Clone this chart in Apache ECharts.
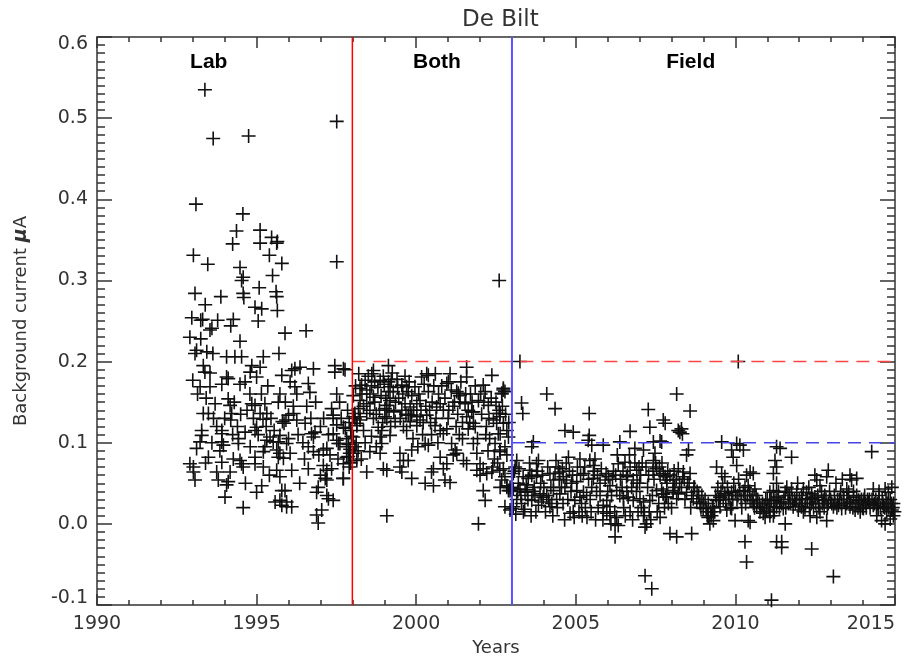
<!DOCTYPE html>
<html>
<head>
<meta charset="utf-8">
<script src="https://cdn.jsdelivr.net/npm/echarts@6/dist/echarts.min.js"></script>
<style>html,body{margin:0;padding:0;background:#fff}#c{width:920px;height:662px}</style>
</head>
<body>
<div id="c"></div>
<script>
// ---- data (years, background current in microampere) ----
const labData = [
[1993.38,0.535],[1993.64,0.475],[1994.75,0.478],[1997.51,0.496],[1993.10,0.394],[1994.57,0.382],[1994.37,0.361],[1995.11,0.362],[1995.47,0.353],[1995.65,0.348],[1994.25,0.345],[1995.11,0.346],
[1995.63,0.346],[1993.02,0.331],[1995.40,0.331],[1993.47,0.32],[1995.79,0.321],[1997.51,0.323],[1994.48,0.316],[1994.58,0.304],[1994.53,0.30],[1995.50,0.306],[1993.07,0.284],[1993.88,0.28],[1994.58,0.284],[1994.60,0.279],[1995.08,0.291],[1995.61,0.286],[1995.63,0.28],[1993.39,0.27],[1994.95,0.267],[1995.16,0.265],[1995.65,0.263],[1992.97,0.254],[1993.31,0.252],[1993.25,0.251],[1993.78,0.251],[1994.27,0.252],[1994.19,0.244],[1995.05,0.25],[1993.60,0.241],[1993.54,0.239],[1992.91,0.23],[1993.25,0.228],[1994.48,0.225],[1995.89,0.235],[1996.55,0.238],
[1993.12,0.214],[1993.07,0.21],[1993.44,0.212],[1993.63,0.21],[1994.06,0.206],[1994.32,0.206],[1994.53,0.206],[1995.21,0.206],[1995.70,0.21],[1993.33,0.195],[1993.38,0.187],[1993.54,0.186],[1994.85,0.195],[1995.11,0.193],[1994.80,0.187],[1995.00,0.181],[1994.06,0.181],[1996.20,0.191],[1996.10,0.189],[1996.36,0.193],[1995.79,0.183],[1996.78,0.191],[1997.45,0.195],[1997.45,0.187],[1997.77,0.19],
[1993.00,0.177],[1993.23,0.169],[1993.54,0.169],[1993.91,0.172],[1994.11,0.179],[1994.48,0.172],[1994.64,0.175],[1996.05,0.175],[1996.20,0.169],[1996.26,0.16],[1996.62,0.173],[1996.67,0.162],[1995.73,0.16],[1997.51,0.16],[1994.79,0.16],[1993.70,0.148],[1994.11,0.154],[1994.17,0.146],[1994.85,0.148],[1994.95,0.146],[1995.26,0.148],[1995.68,0.15],[1996.57,0.145],[1997.35,0.142],[1993.33,0.136],[1993.49,0.136],[1994.22,0.136],[1995.11,0.136],[1995.32,0.136],[1996.00,0.134],[1996.16,0.136],[1997.40,0.134],
[1994.19,0.128],[1995.20,0.129],[1995.92,0.128],[1995.81,0.126],[1995.86,0.124],[1996.26,0.128],[1996.52,0.124],[1997.40,0.130],[1997.51,0.122],[1997.72,0.119],
[1993.28,0.115],[1993.28,0.109],[1993.23,0.101],[1993.91,0.115],[1993.91,0.111],[1994.43,0.105],[1994.43,0.099],[1994.64,0.113],[1993.91,0.101],[1993.96,0.097],[1995.00,0.119],[1994.95,0.115],[1995.42,0.107],[1995.32,0.103],[1995.52,0.101],[1995.73,0.109],[1995.68,0.101],[1995.94,0.099],[1996.72,0.111],[1996.83,0.113],[1996.78,0.107],[1997.20,0.093],[1997.09,0.091],[1997.40,0.111],[1997.51,0.103],[1997.56,0.099],[1997.82,0.095],[1997.87,0.083],[1997.92,0.087],[1996.62,0.095],[1996.78,0.089],[1995.26,0.095],[1995.21,0.089],[1995.63,0.091],[1995.73,0.087],[1995.68,0.082],[1996.05,0.087],[1995.84,0.081],[1993.12,0.093],[1993.49,0.082],[1992.91,0.074],[1993.02,0.07],[1993.02,0.064],[1993.07,0.054],[1993.91,0.076],[1993.75,0.064],[1994.17,0.064],[1994.27,0.08],[1994.48,0.078],[1994.58,0.07],[1994.53,0.074],[1994.95,0.082],[1994.95,0.074],[1995.21,0.07],[1995.63,0.066],[1995.73,0.058],[1996.10,0.066],[1996.62,0.068],[1997.09,0.072],[1997.20,0.066],[1997.35,0.068],[1997.00,0.06],[1997.15,0.056],[1997.20,0.054],[1997.71,0.056],[1993.80,0.054],[1994.11,0.052],[1994.06,0.048],[1994.01,0.033],[1995.16,0.047],[1995.00,0.039],[1995.79,0.041],[1995.89,0.041],[1995.73,0.029],[1995.58,0.027],[1995.94,0.027],[1995.79,0.023],[1996.10,0.021],[1995.94,0.021],[1994.58,0.02],[1996.93,0.045],[1996.88,0.039],[1997.20,0.035],[1997.25,0.031],[1997.40,0.029],[1997.04,0.017],[1996.88,0.011],[1996.93,0.001],
[1997.85,0.14],[1997.90,0.125],[1997.95,0.115],[1997.82,0.105],[1997.88,0.098],[1997.93,0.092],[1997.97,0.108],[1997.78,0.118],[1997.95,0.075],[1997.90,0.07],
[1997.72,0.191],[1997.61,0.099],[1997.82,0.082],[1997.72,0.074],[1997.93,0.076],[1997.72,0.056],
[1993.15,0.16],[1993.42,0.155],[1993.65,0.13],[1993.75,0.12],[1993.85,0.09],[1994.00,0.13],[1994.30,0.15],[1994.40,0.12],[1994.70,0.14],[1994.90,0.13],[1995.05,0.11],[1995.15,0.16],[1995.35,0.17],[1995.45,0.13],[1995.55,0.115],[1995.90,0.15],[1996.15,0.145],[1996.30,0.11],[1996.45,0.10],[1996.50,0.08],[1996.70,0.13],[1996.85,0.15],[1997.00,0.12],[1997.10,0.13],[1997.25,0.11],[1997.30,0.085],[1997.55,0.08],[1997.65,0.13],[1997.60,0.15],[1996.95,0.085],[1994.80,0.095],[1994.25,0.11],[1993.60,0.10],[1993.40,0.075],[1994.65,0.05],[1995.40,0.06],[1996.35,0.05],[1996.00,0.105],[1995.30,0.12],[1994.50,0.135]
];

const bothData = [
[2002.60,0.30],[1999.13,0.195],[1998.66,0.189],[1998.61,0.185],[1998.40,0.177],[1998.29,0.171],[1998.24,0.167],[1998.97,0.182],[1998.87,0.177],[1999.13,0.175],[1999.18,0.169],[1999.13,0.163],[1999.28,0.163],[2000.33,0.185],[2000.38,0.183],[2000.17,0.181],[1999.96,0.169],[1999.70,0.169],[1999.55,0.171],[1999.86,0.158],[1999.75,0.163],[2001.06,0.185],[2001.01,0.175],[2000.96,0.173],[2001.58,0.193],[2001.58,0.181],[2002.37,0.183],[2002.10,0.171],[2002.16,0.163],[2002.73,0.167],[2002.68,0.161],[2002.78,0.163],[2001.27,0.163],[2001.32,0.161],[2001.37,0.158],[2000.38,0.163],[2000.12,0.152],[2000.02,0.148],[2000.75,0.148],[2000.64,0.144],[1999.18,0.152],[1999.08,0.146],[1999.02,0.142],[1998.24,0.152],[1998.45,0.148],[1998.55,0.14],[1998.19,0.142],[1998.66,0.156],[1999.65,0.148],[1999.81,0.144],[2001.37,0.15],[2001.53,0.148],[2001.63,0.14],[2001.79,0.138],[2002.26,0.146],[2002.60,0.14],[2002.52,0.136],[2002.62,0.132],[1998.03,0.158],[1998.08,0.136],[1998.24,0.132],[1999.02,0.132],[1999.86,0.134],[2000.02,0.132],
[1998.08,0.13],[1998.14,0.121],[1998.03,0.132],[1998.24,0.128],[1998.14,0.124],[1998.45,0.136],[1998.66,0.13],[1998.81,0.119],[1998.92,0.115],[1998.87,0.107],[1998.92,0.099],[1999.18,0.109],[1999.08,0.13],[1999.34,0.126],[1999.75,0.134],[1999.81,0.126],[2000.12,0.128],[2000.02,0.121],[1999.70,0.115],[2000.33,0.134],[2000.59,0.121],[2000.75,0.115],[2000.96,0.117],[2000.85,0.111],
[1998.03,0.107],[1998.08,0.095],[1998.03,0.087],[1998.14,0.078],[1998.45,0.064],[1998.55,0.089],[1998.87,0.087],[1998.97,0.068],[1999.08,0.066],[1999.49,0.087],[1999.60,0.078],[1999.49,0.07],[1999.55,0.064],[1999.86,0.091],[1999.75,0.078],[1999.86,0.056],[1999.08,0.01],[2000.38,0.097],[2000.28,0.099],[2000.48,0.064],[2000.54,0.068],[2000.28,0.05],[2000.54,0.047],[2000.90,0.054],[2001.06,0.051],[2000.75,0.082],[2000.96,0.074],[2000.85,0.068],[2001.11,0.099],[2001.22,0.091],[2001.27,0.087],[2001.16,0.085],[2001.48,0.078],[2001.58,0.074],[2001.58,0.132],[2001.74,0.138],[2001.79,0.124],[2001.63,0.117],[2001.79,0.099],[2001.90,0.087],[2002.00,0.074],[2002.10,0.068],[2001.90,0.066],[2002.00,0.06],[2002.21,0.062],[2002.37,0.064],[2002.62,0.066],[2002.10,0.041],[2002.16,0.029],[2001.95,0.0],[2002.42,0.128],[2002.52,0.124],[2002.57,0.111],[2002.47,0.099],[2002.62,0.091],[2002.84,0.085],[2002.84,0.047],[2002.89,0.041],[2002.94,0.045],[2002.78,0.021],[2002.99,0.019],[2002.94,0.017],
[2002.68,0.16],[2002.73,0.165],[2002.63,0.136],[2002.73,0.124],[2002.84,0.115],[2002.63,0.111],[2002.89,0.107],[2002.78,0.095],[2002.63,0.089],[2002.73,0.068],[2002.78,0.058],[2002.68,0.054],[2002.63,0.045],[2002.84,0.045],[2002.94,0.041],
[1998.50,0.182],[1998.70,0.175],[1998.80,0.168],[1998.90,0.158],[1999.00,0.172],[1999.25,0.186],[1999.40,0.178],[1999.45,0.155],[1999.55,0.14],[1999.30,0.138],[1999.20,0.12],[1998.35,0.115],[1998.60,0.108],[1998.75,0.095],[1998.40,0.1],[1999.60,0.12],[1999.90,0.105],[2000.05,0.095],[2000.20,0.11],[2000.45,0.125],[2000.50,0.15],[2000.55,0.17],[2000.70,0.16],[2000.85,0.14],[2001.00,0.13],[2001.15,0.145],[2001.25,0.12],[2001.45,0.105],[2001.70,0.16],[2001.85,0.17],[2001.95,0.152],[2002.05,0.135],[2002.20,0.12],[2002.30,0.105],[2002.45,0.08],[2002.25,0.09],[2001.40,0.175],[2000.25,0.172],[1999.65,0.182],[2000.60,0.185],
[1998.10,0.17],[1998.20,0.185],[1998.30,0.16],[1998.35,0.145],[1998.45,0.165],[1998.55,0.16],[1998.60,0.17],[1998.70,0.15],[1998.75,0.135],[1998.85,0.14],[1998.95,0.125],[1999.05,0.155],[1999.15,0.14],[1999.22,0.178],[1999.35,0.15],[1999.42,0.168],[1999.50,0.13],[1999.58,0.16],[1999.68,0.135],[1999.78,0.175],[1999.92,0.14],[2000.08,0.16],[2000.15,0.14],[2000.22,0.125],[2000.30,0.145],[2000.42,0.14],[2000.48,0.11],[2000.62,0.13],[2000.68,0.10],[2000.80,0.17],[2000.90,0.155],[2001.02,0.14],[2001.10,0.165],[2001.20,0.15],[2001.30,0.135],[2001.35,0.11],[2001.45,0.125],[2001.55,0.16],[2001.68,0.125],[2001.75,0.15],[2001.85,0.12],[2001.92,0.105],[2002.02,0.16],[2002.12,0.15],[2002.18,0.11],[2002.28,0.13],[2002.35,0.155],[2002.40,0.07],[2002.50,0.15],[2002.55,0.075],[2002.70,0.145],[2002.80,0.135],[2002.90,0.125],[1998.12,0.10],[1998.18,0.09],[1998.28,0.08]
];

const fieldData = [
[2003.25,0.2],[2004.09,0.16],[2003.30,0.149],[2003.34,0.136],[2004.35,0.142],[2005.42,0.136],[2004.66,0.115],[2004.92,0.113],[2005.42,0.109],[2005.39,0.103],[2005.50,0.097],[2007.27,0.141],[2007.74,0.128],[2007.80,0.124],[2007.32,0.119],[2006.70,0.114],[2008.16,0.16],[2008.21,0.115],[2003.67,0.101],[2003.62,0.095],[2006.38,0.101],[2006.85,0.093],[2007.12,0.091],[2007.43,0.101],[2007.64,0.102],[2005.86,0.097],[2007.48,0.087],[2007.43,0.078],[2003.15,0.078],[2003.10,0.07],[2003.04,0.062],[2003.83,0.078],[2003.77,0.074],[2004.77,0.082],[2005.13,0.08],[2005.44,0.078],[2005.60,0.08],[2005.55,0.072],[2004.45,0.07],[2004.50,0.064],[2004.35,0.062],[2004.61,0.058],[2003.56,0.066],[2003.62,0.06],[2003.51,0.056],[2003.77,0.058],[2004.71,0.054],[2004.87,0.05],[2005.03,0.052],[2004.66,0.045],[2006.33,0.074],[2006.54,0.076],[2006.70,0.07],[2006.91,0.066],[2006.59,0.058],[2006.80,0.054],[2007.53,0.068],[2007.74,0.062],[2007.85,0.054],[2008.05,0.054],[2005.24,0.062],[2005.55,0.056],[2005.76,0.05],[2005.92,0.054],[2006.07,0.047],[2003.04,0.043],[2003.25,0.043],[2003.41,0.039],[2003.88,0.037],[2003.98,0.033],[2004.09,0.035],[2003.93,0.027],[2003.83,0.023],[2004.19,0.021],[2005.03,0.041],[2005.24,0.039],[2005.13,0.033],[2005.34,0.035],[2004.97,0.029],[2005.18,0.025],[2004.92,0.015],[2004.82,0.013],[2004.30,0.041],[2004.50,0.037],[2005.76,0.035],[2005.97,0.029],[2005.86,0.023],[2006.07,0.021],[2006.12,0.035],[2006.28,0.041],[2006.38,0.035],[2006.49,0.031],[2006.64,0.033],[2006.80,0.029],[2007.01,0.031],[2007.12,0.027],[2007.32,0.029],[2005.86,0.015],[2005.97,0.013],[2006.07,0.01],[2006.28,0.008],[2006.23,0.0],[2006.33,-0.002],[2006.23,-0.016],[2007.12,0.01],[2007.22,0.0],[2007.17,-0.004],[2007.64,0.008],[2007.17,-0.064],[2007.38,-0.08],[2007.95,-0.012],[2008.16,-0.016],[2007.53,0.041],[2007.74,0.037],[2007.85,0.033],[2008.05,0.041],[2008.16,0.031],[2003.04,0.021],[2003.36,0.015],[2003.72,0.035],[2003.62,0.029],[2004.19,0.062],[2004.30,0.054],
[2008.58,0.139],[2008.31,0.117],[2008.34,0.111],[2008.26,0.113],[2007.69,0.101],[2009.57,0.101],[2010.09,0.2],[2010.14,0.097],[2010.25,0.091],[2009.93,0.082],[2010.04,0.072],[2008.53,0.091],[2008.47,0.085],[2009.41,0.07],[2009.57,0.062],[2009.67,0.058],[2008.21,0.068],[2008.37,0.064],[2008.58,0.062],[2010.46,0.064],[2010.56,0.062],[2011.19,0.062],[2011.29,0.07],[2011.24,0.078],[2011.29,0.095],[2007.64,0.06],[2007.80,0.058],[2007.85,0.05],[2007.69,0.043],[2007.74,0.037],[2008.10,0.045],[2008.05,0.039],[2008.21,0.037],[2008.31,0.045],[2008.47,0.039],[2008.63,0.035],[2008.68,0.031],[2008.79,0.027],[2008.89,0.025],[2008.99,0.019],[2009.10,0.015],[2009.15,0.008],[2009.20,0.0],[2009.25,0.01],[2009.31,0.004],[2009.41,0.029],[2009.52,0.033],[2009.67,0.037],[2009.78,0.035],[2009.88,0.039],[2009.52,0.021],[2009.73,0.017],[2009.88,0.019],[2009.99,0.004],[2010.14,0.041],[2010.30,0.045],[2010.40,0.047],[2010.61,0.043],[2010.30,0.035],[2010.46,0.029],[2010.56,0.025],[2010.67,0.021],[2010.77,0.015],[2010.87,0.013],[2010.98,0.017],[2011.08,0.01],[2010.93,0.008],[2010.46,0.002],[2010.40,0.004],[2010.30,-0.022],[2010.35,-0.047],[2008.63,-0.012],[2011.29,-0.022],[2011.13,-0.094],[2011.24,0.029],[2011.34,0.033],[2011.29,0.05],[2011.19,0.041],[2009.88,0.091],[2010.04,0.099],[2007.80,0.033],[2007.90,0.025],
[2011.40,0.093],[2011.76,0.082],[2014.27,0.089],[2012.91,0.066],[2012.86,0.058],[2012.49,0.06],[2012.55,0.054],[2012.65,0.047],[2013.59,0.06],[2013.64,0.054],[2013.80,0.056],[2013.49,0.043],[2013.55,0.039],[2014.32,0.043],[2014.69,0.043],[2014.79,0.039],[2011.61,0.045],[2011.76,0.043],[2011.92,0.039],[2011.56,0.039],[2012.13,0.043],[2012.23,0.039],[2012.07,0.035],[2012.39,0.037],[2012.49,0.033],[2012.34,0.031],[2011.08,0.029],[2011.19,0.025],[2011.29,0.021],[2011.40,0.027],[2011.50,0.019],[2011.66,0.025],[2011.81,0.021],[2011.97,0.017],[2012.07,0.021],[2011.08,0.015],[2011.19,0.01],[2011.56,0.0],[2011.45,-0.022],[2011.45,-0.029],[2012.39,-0.031],[2013.07,-0.065],[2012.13,0.015],[2012.34,0.01],[2012.55,0.008],[2012.65,0.015],[2012.86,0.004],[2012.76,0.029],[2012.91,0.025],[2013.07,0.021],[2013.23,0.023],[2013.33,0.019],[2013.49,0.025],[2013.59,0.027],[2013.70,0.033],[2013.86,0.029],[2014.01,0.025],[2014.17,0.027],[2014.32,0.023],[2014.48,0.019],[2014.64,0.021],[2014.74,0.015],[2014.90,0.017],[2014.43,0.01],[2014.58,0.004],[2014.69,0.0],[2014.85,0.006],[2014.95,0.01],[2013.59,0.021],[2013.75,0.017],[2013.91,0.015],[2014.01,0.019],[2011.08,0.039],
[2003.20,0.05],[2003.45,0.048],[2003.70,0.045],[2003.90,0.05],[2004.00,0.045],[2004.15,0.03],[2004.25,0.025],[2004.40,0.03],[2004.55,0.045],[2004.60,0.025],[2004.75,0.03],[2004.85,0.04],[2003.50,0.03],[2003.30,0.025],[2003.15,0.03],
[2005.10,0.015],[2005.30,0.02],[2005.45,0.03],[2005.50,0.045],[2005.65,0.04],[2005.70,0.02],[2006.00,0.04],[2006.15,0.055],[2006.25,0.06],[2006.45,0.045],[2006.60,0.04],[2006.75,0.045],[2006.90,0.04],[2007.00,0.05],[2007.05,0.02],[2007.25,0.045],[2007.40,0.035],[2007.45,0.055],[2006.50,0.02],[2006.70,0.015],[2006.95,0.015],[2007.30,0.015],[2007.60,0.025],
[2008.40,0.055],[2008.50,0.05],[2008.70,0.045],[2008.80,0.04],[2008.95,0.035],[2009.05,0.03],[2009.15,0.025],[2009.30,0.02],[2009.45,0.045],[2009.60,0.05],[2009.75,0.045],[2009.95,0.05],[2010.05,0.03],[2010.20,0.02],[2010.55,0.035],[2010.70,0.03],[2010.85,0.025],[2011.00,0.03],[2010.10,0.055],[2010.35,0.06],
[2011.35,0.04],[2011.70,0.035],[2011.85,0.03],[2012.00,0.03],[2012.20,0.025],[2012.45,0.02],[2012.60,0.025],[2012.70,0.04],[2012.80,0.035],[2012.95,0.04],[2013.10,0.035],[2013.20,0.03],[2013.30,0.04],[2013.40,0.03],[2013.70,0.04],[2013.80,0.035],[2013.95,0.03],[2014.05,0.035],[2014.10,0.02],[2014.20,0.03],[2014.40,0.03],[2014.50,0.035],[2014.60,0.03],[2014.75,0.025],[2014.85,0.03],[2014.95,0.025],[2014.50,0.04],[2014.90,0.045],[2012.30,0.045],[2011.95,0.05],[2013.15,0.05],[2013.35,0.055],
[2003.08,0.065],[2003.12,0.012],[2003.18,0.04],[2003.22,0.068],[2003.28,0.035],[2003.35,0.058],[2003.40,0.018],[2003.48,0.042],[2003.55,0.075],[2003.60,0.01],[2003.66,0.04],[2003.75,0.015],[2003.80,0.065],[2003.95,0.06],[2004.05,0.015],[2004.12,0.07],[2004.22,0.045],[2004.28,0.01],[2004.38,0.078],[2004.42,0.02],[2004.48,0.055],[2004.58,0.068],[2004.65,0.005],[2004.70,0.075],[2004.80,0.065],[2004.90,0.06],[2004.95,0.008],
[2005.05,0.07],[2005.15,0.06],[2005.20,0.01],[2005.28,0.07],[2005.35,0.008],[2005.40,0.055],[2005.48,0.015],[2005.58,0.065],[2005.62,0.005],[2005.68,0.06],[2005.80,0.068],[2005.85,0.005],[2005.95,0.062],[2006.02,0.058],[2006.10,0.0],[2006.18,0.065],[2006.22,0.015],[2006.30,0.085],[2006.40,0.055],[2006.48,0.065],[2006.55,0.01],[2006.62,0.06],[2006.68,0.085],[2006.78,0.005],[2006.85,0.075],[2006.92,0.05],[2006.98,0.07],
[2007.03,0.06],[2007.08,0.075],[2007.15,0.015],[2007.20,0.07],[2007.28,0.06],[2007.35,0.005],[2007.42,0.065],[2007.50,0.075],[2007.55,0.015],[2007.62,0.07],[2007.70,0.075],[2007.78,0.02],[2007.88,0.065],[2007.95,0.06],[2008.00,0.02],[2008.08,0.065],[2008.15,0.055],[2008.25,0.05],[2008.35,0.058],[2008.42,0.03],[2008.55,0.05],[2008.60,0.02],[2008.72,0.045],[2008.85,0.035],[2008.92,0.02],
[2009.00,0.025],[2009.08,0.02],[2009.12,0.01],[2009.22,0.015],[2009.28,0.02],[2009.35,0.015],[2009.38,0.035],[2009.48,0.03],[2009.55,0.04],[2009.62,0.03],[2009.70,0.025],[2009.80,0.03],[2009.85,0.02],[2009.92,0.03],[2010.00,0.04],[2010.08,0.035],[2010.18,0.03],[2010.25,0.04],[2010.32,0.025],[2010.38,0.035],[2010.45,0.04],[2010.52,0.03],[2010.60,0.02],[2010.65,0.035],[2010.75,0.025],[2010.80,0.02],[2010.90,0.02],[2010.95,0.03],
[2011.05,0.02],[2011.12,0.03],[2011.22,0.015],[2011.30,0.03],[2011.38,0.02],[2011.45,0.025],[2011.52,0.03],[2011.58,0.02],[2011.65,0.035],[2011.72,0.025],[2011.78,0.03],[2011.88,0.025],[2011.92,0.03],[2012.02,0.025],[2012.10,0.03],[2012.18,0.02],[2012.25,0.03],[2012.32,0.02],[2012.38,0.025],[2012.42,0.03],[2012.52,0.025],[2012.58,0.035],[2012.62,0.02],[2012.72,0.025],[2012.78,0.02],[2012.84,0.03],[2012.88,0.02],[2012.98,0.03],[2013.02,0.025],[2013.12,0.025],[2013.18,0.02],[2013.26,0.03],[2013.32,0.025],[2013.38,0.035],[2013.45,0.02],[2013.52,0.03],[2013.62,0.025],[2013.68,0.02],[2013.78,0.025],[2013.84,0.02],[2013.90,0.025],[2013.98,0.02],[2014.03,0.03],[2014.08,0.025],[2014.14,0.03],[2014.22,0.02],[2014.28,0.03],[2014.35,0.025],[2014.42,0.02],[2014.46,0.025],[2014.55,0.02],[2014.62,0.025],[2014.68,0.02],[2014.72,0.03],[2014.80,0.02],[2014.88,0.025],[2014.93,0.02],[2014.98,0.015]
];

const periodNames = ['Lab', 'Both', 'Field'];
const periodLabelX = [1993.5, 2000.65, 2008.6];
const periodLabelY = 0.569;
const labEnd = 1998.0;        // red vertical line
const fieldStart = 2003.0;    // blue vertical line
const labLimit = 0.2;         // red dashed threshold
const fieldLimit = 0.1;       // blue dashed threshold
const xMin = 1990, xMax = 2015, xStep = 5;
const yMin = -0.1, yMax = 0.6, yStep = 0.1;

const FONT = 'DejaVu Sans';
const AX = '#333';
const plusPath = 'path://M6.2,0H7.8V6.2H14V7.8H7.8V14H6.2V7.8H0V6.2H6.2Z';

const near = (a, b) => Math.abs(a - b) < 1e-6;

const chart = echarts.init(document.getElementById('c'), null, {renderer: 'canvas'});
const axisLineStyle = {color: AX, width: 1.5};

chart.setOption({
  animation: false,
  backgroundColor: '#fff',
  title: {
    text: 'De Bilt', left: 457, top: 4,
    textStyle: {fontFamily: FONT, fontSize: 23, fontWeight: 'normal', color: '#333'}
  },
  grid: {left: 97, right: 25, top: 37, bottom: 57},
  xAxis: [{
    type: 'value', min: xMin, max: xMax, interval: xStep, position: 'bottom',
    name: 'Years', nameLocation: 'middle', nameGap: 34,
    nameTextStyle: {fontFamily: FONT, fontSize: 18, color: '#333'},
    axisLine: {show: true, onZero: false, lineStyle: axisLineStyle},
    axisTick: {show: true, inside: true, length: 11, lineStyle: axisLineStyle},
    minorTick: {show: true, splitNumber: 5, length: 5, lineStyle: axisLineStyle},
    axisLabel: {fontFamily: FONT, fontSize: 19, color: '#333', margin: 10, alignMaxLabel: 'right',
      formatter: v => String(Math.round(v))},
    splitLine: {show: false}
  }, {
    type: 'value', min: xMin, max: xMax, interval: xStep, position: 'top',
    axisLine: {show: true, onZero: false, lineStyle: axisLineStyle},
    axisTick: {show: true, inside: true, length: 11, lineStyle: axisLineStyle},
    minorTick: {show: true, splitNumber: 5, length: 5, lineStyle: axisLineStyle},
    axisLabel: {show: false}, splitLine: {show: false}
  }],
  yAxis: [{
    type: 'value', min: yMin, max: yMax, interval: yStep, position: 'left',
    name: 'Background current {mu|μ}A', nameLocation: 'middle', nameGap: 66, nameRotate: 90,
    nameTextStyle: {fontFamily: FONT, fontSize: 18, color: '#333',
      rich: {mu: {fontFamily: FONT, fontSize: 19, fontStyle: 'italic', fontWeight: 'bold', color: '#333'}}},
    axisLine: {show: true, onZero: false, lineStyle: axisLineStyle},
    axisTick: {show: true, inside: true, length: 15, lineStyle: axisLineStyle},
    minorTick: {show: true, splitNumber: 10, length: 8, lineStyle: axisLineStyle},
    axisLabel: {fontFamily: FONT, fontSize: 19, color: '#333', margin: 9,
      formatter: v => {
        const s = v.toFixed(1);
        if (near(v, yMax)) return '{t|' + s + '}';
        if (near(v, yMin)) return '{b|' + s + '}';
        return s;
      },
      rich: {
        t: {fontFamily: FONT, fontSize: 19, color: '#333', padding: [14, 0, 0, 0]},
        b: {fontFamily: FONT, fontSize: 19, color: '#333', padding: [0, 0, 14, 0]}
      }},
    splitLine: {show: false}
  }, {
    type: 'value', min: yMin, max: yMax, interval: yStep, position: 'right',
    axisLine: {show: true, onZero: false, lineStyle: axisLineStyle},
    axisTick: {show: true, inside: true, length: 15, lineStyle: axisLineStyle},
    minorTick: {show: true, splitNumber: 10, length: 8, lineStyle: axisLineStyle},
    axisLabel: {show: false}, splitLine: {show: false}
  }],
  series: [
    {
      type: 'scatter', name: 'measurements', xAxisIndex: 0, yAxisIndex: 0,
      data: labData.concat(bothData, fieldData),
      symbol: plusPath, symbolSize: 14,
      itemStyle: {color: '#111', opacity: 1},
      silent: true, z: 2
    },
    {
      type: 'line', name: 'lab limit', xAxisIndex: 0, yAxisIndex: 0,
      data: [[labEnd, labLimit], [xMax, labLimit]],
      showSymbol: false, symbol: 'none',
      lineStyle: {color: '#ff4444', width: 1.5, type: [13, 8]}, z: 3, silent: true
    },
    {
      type: 'line', name: 'field limit', xAxisIndex: 0, yAxisIndex: 0,
      data: [[fieldStart, fieldLimit], [xMax, fieldLimit]],
      showSymbol: false, symbol: 'none',
      lineStyle: {color: '#4646e6', width: 1.5, type: [13, 8]}, z: 3, silent: true
    },
    {
      type: 'line', name: 'lab end', xAxisIndex: 0, yAxisIndex: 0,
      data: [[labEnd, yMin], [labEnd, yMax]],
      showSymbol: false, symbol: 'none',
      lineStyle: {color: '#ff0000', width: 1.5}, z: 4, silent: true
    },
    {
      type: 'line', name: 'field start', xAxisIndex: 0, yAxisIndex: 0,
      data: [[fieldStart, yMin], [fieldStart, yMax]],
      showSymbol: false, symbol: 'none',
      lineStyle: {color: '#5555ff', width: 2}, z: 4, silent: true
    },
    {
      type: 'scatter', name: 'periods', xAxisIndex: 0, yAxisIndex: 0,
      data: periodNames.map((n, i) => ({name: n, value: [periodLabelX[i], periodLabelY]})),
      symbolSize: 1, itemStyle: {color: 'rgba(0,0,0,0)'},
      label: {show: true, position: 'inside', formatter: p => p.name, opacity: 1,
        fontFamily: 'Liberation Sans', fontWeight: 'bold', fontSize: 21, color: '#000'},
      silent: true, z: 5
    }
  ]
});
</script>
</body>
</html>
